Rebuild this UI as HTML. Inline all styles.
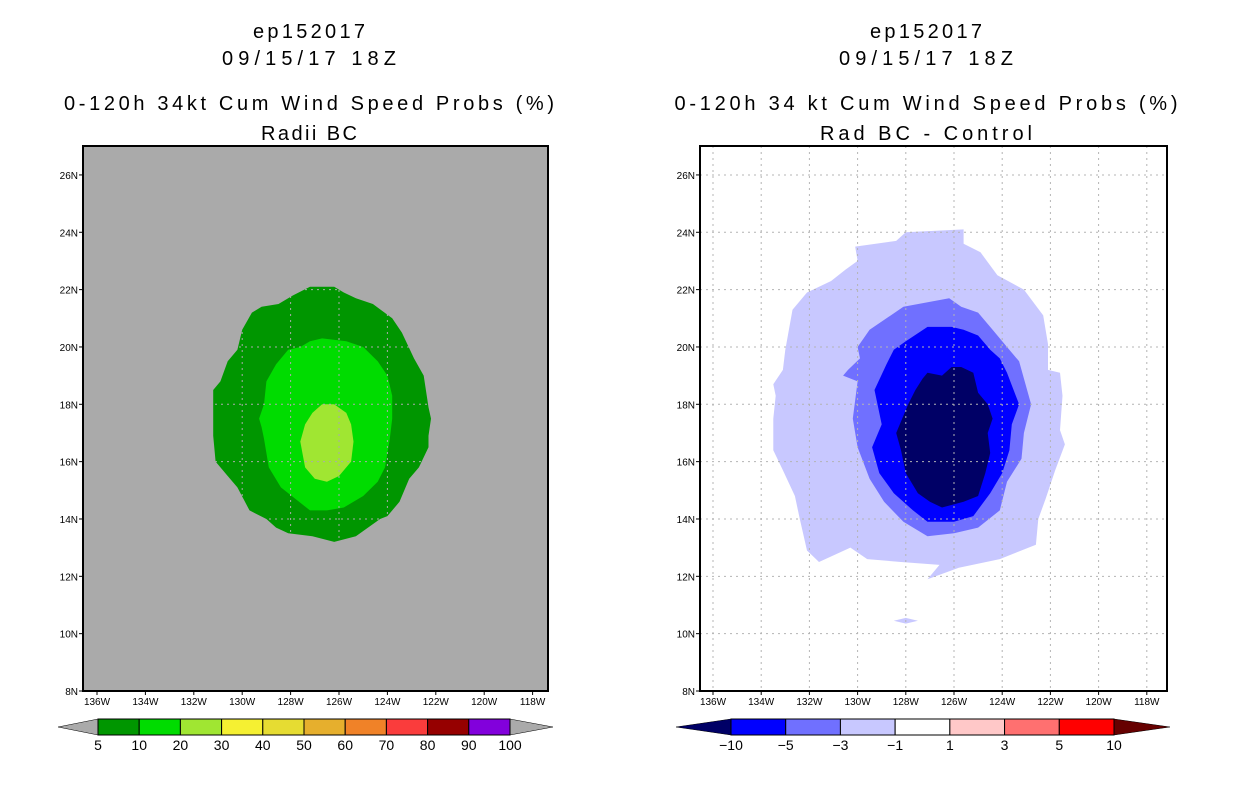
<!DOCTYPE html>
<html><head><meta charset="utf-8"><style>
html,body{margin:0;padding:0;background:#fff;}
svg{display:block;font-family:"Liberation Sans",sans-serif;}
</style></head><body>
<svg id="fig" width="1236" height="800" viewBox="0 0 1236 800"></svg>
<script>
// ---- data ----
const lonTicks = [136,134,132,130,128,126,124,122,120,118];
const latTicks = [8,10,12,14,16,18,20,22,24,26];
const leftLevels = ['5','10','20','30','40','50','60','70','80','90','100'];
const leftColors = ['#009600','#00dc00','#a0e632','#f5f032','#e6dc32','#e6af2d','#f08228','#fa3c3c','#960000','#8200dc'];
const rightLevels = ['-10','-5','-3','-1','1','3','5','10'];
const rightColors = ['#0000ff','#7070ff','#c8c8ff','#ffffff','#ffc8c8','#ff7070','#ff0000'];
// left panel contours [lonW, latN]
const prob5 = [[127.2,22.1],[126.2,22.1],[125.8,21.9],[125.3,21.7],[124.6,21.5],[123.8,21.0],[123.4,20.5],[122.9,19.6],[122.5,19.0],[122.3,17.9],[122.2,17.5],[122.3,16.9],[122.3,16.5],[122.7,15.8],[123.1,15.4],[123.5,14.6],[124.0,14.1],[124.3,14.0],[125.3,13.4],[126.2,13.2],[127.1,13.4],[128.1,13.5],[128.6,13.7],[129.0,14.0],[129.7,14.3],[130.2,15.1],[130.6,15.5],[131.1,16.0],[131.2,16.9],[131.2,17.7],[131.2,18.5],[130.9,18.8],[130.6,19.5],[130.2,19.9],[130.0,20.6],[129.6,21.2],[129.2,21.4],[128.5,21.5],[127.9,21.8]];
const prob10 = [[127.2,20.2],[126.7,20.3],[125.7,20.2],[125.0,20.0],[124.4,19.5],[124.0,19.0],[123.8,18.3],[123.8,17.5],[123.9,16.8],[124.1,15.8],[124.4,15.3],[125.0,14.8],[125.8,14.4],[126.5,14.3],[127.2,14.3],[127.8,14.7],[128.4,15.1],[128.9,15.8],[129.1,16.8],[129.2,17.2],[129.3,17.5],[129.1,18.0],[129.0,18.8],[128.6,19.4],[128.1,19.9],[127.6,20.0]];
const prob20 = [[126.7,18.0],[126.2,18.0],[125.7,17.7],[125.5,17.3],[125.4,16.7],[125.5,16.0],[126.0,15.5],[126.5,15.3],[127.0,15.4],[127.4,15.8],[127.6,16.7],[127.4,17.3],[127.1,17.7]];
// right panel contours
const diffM1 = [[128.0,24.0],[125.6,24.1],[125.6,23.6],[124.9,23.3],[124.2,22.5],[123.1,22.0],[122.3,21.1],[122.1,20.1],[122.1,19.2],[121.6,19.1],[121.5,18.3],[121.6,17.1],[121.4,16.6],[121.8,15.7],[122.2,14.7],[122.5,14.0],[122.6,13.1],[124.1,12.6],[125.8,12.3],[127.1,11.9],[126.6,12.4],[128.2,12.5],[129.6,12.6],[130.3,13.0],[131.6,12.5],[132.1,12.9],[132.4,14.0],[132.6,14.8],[133.1,15.7],[133.5,16.4],[133.5,17.5],[133.4,18.3],[133.5,18.7],[133.1,19.2],[133.0,19.9],[132.7,21.3],[132.1,21.9],[131.1,22.3],[130.5,22.7],[130.0,23.0],[130.1,23.5],[128.4,23.7]];
const diffM1b = [[128.5,10.45],[128.0,10.55],[127.5,10.45],[128.0,10.35]];
const diffM3 = [[128.1,21.4],[126.2,21.7],[125.7,21.4],[125.0,21.2],[124.4,20.6],[123.8,20.0],[123.3,19.5],[122.8,18.0],[123.1,17.0],[123.2,16.1],[123.8,15.3],[124.1,14.3],[125.0,13.7],[126.0,13.5],[127.1,13.4],[128.1,13.9],[128.9,14.6],[129.5,15.4],[130.0,16.5],[130.2,17.5],[130.0,18.8],[130.6,19.0],[130.4,19.2],[129.9,19.6],[130.0,20.0],[129.5,20.6],[128.8,21.0]];
const diffM5 = [[127.1,20.7],[126.1,20.7],[125.6,20.6],[125.0,20.4],[124.5,19.9],[124.1,19.6],[123.8,19.1],[123.3,18.0],[123.6,17.3],[123.7,16.4],[124.0,15.6],[124.5,14.9],[125.2,14.1],[126.0,13.9],[127.1,13.9],[127.7,14.3],[128.5,14.9],[129.1,15.6],[129.4,16.5],[129.0,17.3],[129.3,18.5],[128.8,19.4],[128.5,19.9],[128.0,20.2]];
const diffM10 = [[127.1,19.1],[126.5,19.0],[126.1,19.3],[125.7,19.3],[125.2,19.1],[125.0,18.4],[124.6,18.0],[124.4,17.5],[124.6,17.0],[124.5,16.3],[124.7,15.6],[125.0,14.8],[125.6,14.6],[126.5,14.4],[127.0,14.6],[127.5,14.9],[128.0,15.6],[128.2,16.4],[128.4,17.0],[128.1,17.6],[127.9,18.0],[127.6,18.5],[127.3,18.9]];

const NS='http://www.w3.org/2000/svg';
const svg=document.getElementById('fig');
function mk(tag,attrs,parent){const e=document.createElementNS(NS,tag);for(const k in attrs)e.setAttribute(k,attrs[k]);(parent||svg).appendChild(e);return e;}

function panel(cfg){
  const g=mk('g',{});
  
  
  const X=lonW=>cfg.x136+(136-lonW)*cfg.dx;
  const Y=lat=>691-(lat-8)*28.67;
  const bg=mk('rect',{x:cfg.x0,y:146,width:cfg.x1-cfg.x0,height:545,fill:cfg.bg},g);
  
  
  cfg.polys.forEach(p=>{
    const el=mk('polygon',{points:p.data.map(d=>X(d[0]).toFixed(1)+','+Y(d[1]).toFixed(1)).join(' '),fill:p.color},g);
    
    
  });
  lonTicks.forEach(l=>{
    const gx=X(l);
    const ln=mk('line',{x1:gx,y1:146,x2:gx,y2:691,stroke:cfg.grid,'stroke-width':1,'stroke-dasharray':'2,4'},g);
    
    
    mk('line',{x1:gx,y1:691,x2:gx,y2:695,stroke:'#000'},g);
    const t=mk('text',{x:gx,y:705,'font-size':10,'text-anchor':'middle',fill:'#000'},g);
    t.textContent=l+'W';
    
    
  });
  latTicks.forEach(l=>{
    const gy=Y(l);
    if(l>8){
      const ln=mk('line',{x1:cfg.x0,y1:gy,x2:cfg.x1,y2:gy,stroke:cfg.grid,'stroke-width':1,'stroke-dasharray':'2,4'},g);
      
      
    }
    mk('line',{x1:cfg.x0-4,y1:gy,x2:cfg.x0,y2:gy,stroke:'#000'},g);
    const t=mk('text',{x:cfg.x0-5,y:gy+4,'font-size':10,'text-anchor':'end',fill:'#000'},g);
    t.textContent=l+'N';
    
    
  });
  const fr=mk('rect',{x:cfg.x0,y:146,width:cfg.x1-cfg.x0,height:545,fill:'none',stroke:'#000','stroke-width':2},g);
  
  
  const lines=[[cfg.t1,38],[cfg.t2,65],[cfg.t3,110],[cfg.t4,140]];
  lines.forEach((L,i)=>{
    const t=mk('text',{x:cfg.cx,y:L[1],'font-size':20,'text-anchor':'middle',fill:'#000',textLength:L[0].len,lengthAdjust:'spacing'},g);
    t.textContent=L[0].s;
    
    
  });
  const cb=mk('g',{},g);
  
  
  const b=cfg.bounds;
  const lt=mk('polygon',{points:`${cfg.tipL},727 ${b[0]},719 ${b[0]},735`,fill:cfg.lowColor,stroke:'#000','stroke-width':0.5},cb);
  
  
  const rt=mk('polygon',{points:`${cfg.tipR},727 ${b[b.length-1]},719 ${b[b.length-1]},735`,fill:cfg.highColor,stroke:'#000','stroke-width':0.5},cb);
  
  
  cfg.colors.forEach((c,i)=>{
    const r=mk('rect',{x:b[i],y:719,width:b[i+1]-b[i],height:16,fill:c,stroke:'#000','stroke-width':1},cb);
    
    
  });
  cfg.levels.forEach((s,i)=>{
    const t=mk('text',{x:b[i],y:750,'font-size':14,'text-anchor':'middle',fill:'#000'},cb);
    t.textContent=s.replace('-','\u2212');
    
    
  });
}

function bounds(a,b,n){const r=[];for(let i=0;i<=n;i++)r.push(a+(b-a)*i/n);return r;}

panel({name:'left-panel',x0:83,x1:548,x136:97,dx:24.2,bg:'#aaaaaa',grid:'#aaaaaa',cx:309,
  t1:{s:'ep152017',len:112},t2:{s:'09/15/17 18Z',len:174},t3:{s:'0-120h 34kt Cum Wind Speed Probs (%)',len:490},t4:{s:'Radii BC',len:96},
  polys:[{data:prob5,color:leftColors[0],name:'contour-5pct'},{data:prob10,color:leftColors[1],name:'contour-10pct'},{data:prob20,color:leftColors[2],name:'contour-20pct'}],
  bounds:bounds(98,510,10),colors:leftColors,levels:leftLevels,tipL:58,tipR:553,lowColor:'#aaaaaa',highColor:'#aaaaaa'});

panel({name:'right-panel',x0:700,x1:1167,x136:713,dx:24.1,bg:'#ffffff',grid:'#b4b4b4',cx:926,
  t1:{s:'ep152017',len:112},t2:{s:'09/15/17 18Z',len:174},t3:{s:'0-120h 34 kt Cum Wind Speed Probs (%)',len:503},t4:{s:'Rad BC - Control',len:212},
  polys:[{data:diffM1,color:'#c8c8ff',name:'contour-minus1'},{data:diffM1b,color:'#c8c8ff',name:'contour-minus1-blob'},{data:diffM3,color:'#7070ff',name:'contour-minus3'},{data:diffM5,color:'#0000ff',name:'contour-minus5'},{data:diffM10,color:'#000066',name:'contour-minus10'}],
  bounds:bounds(731,1114,7),colors:rightColors,levels:rightLevels,tipL:676,tipR:1170,lowColor:'#000066',highColor:'#660000'});
</script>
</body></html>
